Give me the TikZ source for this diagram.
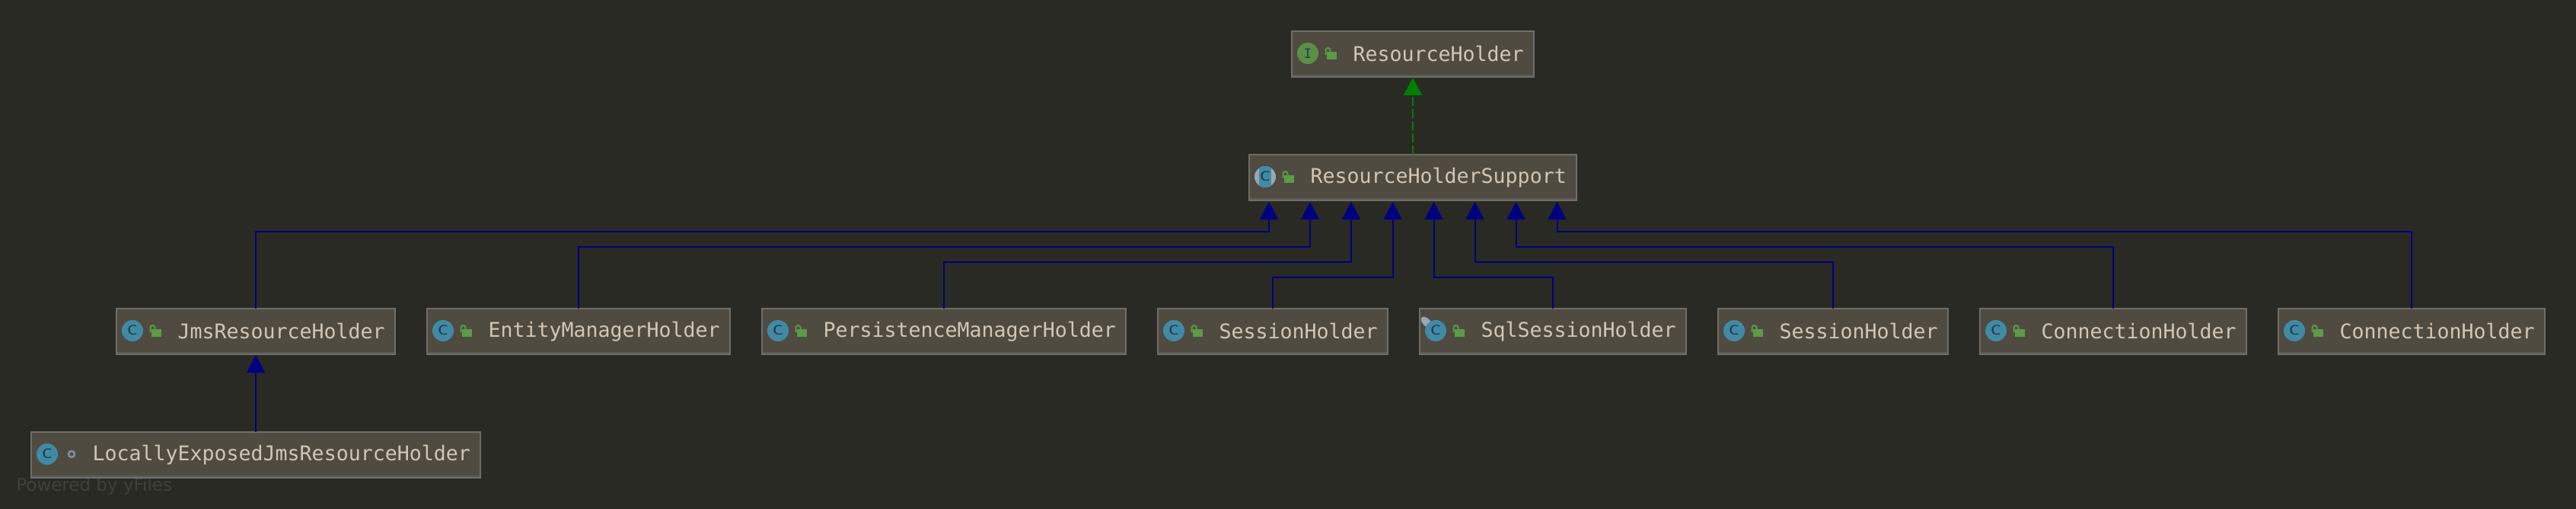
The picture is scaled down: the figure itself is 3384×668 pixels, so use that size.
\documentclass[tikz,border=0pt]{standalone}
\usepackage{fontspec}
\setmonofont{DejaVu Sans Mono}
\setsansfont{DejaVu Sans}
\usetikzlibrary{arrows.meta}
\definecolor{bgc}{HTML}{292A24}
\definecolor{boxfill}{HTML}{4F4B41}
\definecolor{boxline}{HTML}{6E6E6B}
\definecolor{boxshade}{HTML}{5D5A52}
\definecolor{txtc}{HTML}{D2C6B5}
\definecolor{teal}{HTML}{418AA6}
\definecolor{iconink}{HTML}{243D4F}
\definecolor{greyic}{HTML}{9AA7B0}
\definecolor{ifacec}{HTML}{5C8F45}
\definecolor{lockc}{HTML}{5D9B47}
\definecolor{inhc}{HTML}{000080}
\definecolor{implc}{HTML}{008000}
\definecolor{wmark}{HTML}{40403D}
\tikzset{
  x=0.5pt,y=-0.5pt,
  classbox/.style={draw=boxline,fill=boxfill,line width=1pt,inner sep=0pt,outer sep=0pt,anchor=north west,font=\ttfamily\fontsize{13.3}{16}\selectfont,text=txtc},
  inherit/.style={draw=inhc,line width=1pt,-{Triangle[length=11.5pt,width=12pt]},shorten >=0.5pt},
  implement/.style={draw=implc,line width=1pt,dash pattern=on 6pt off 2pt,-{Triangle[length=11.5pt,width=12pt]},shorten >=0.5pt},
  iconc/.style={font=\ttfamily\fontsize{8.5}{10}\selectfont,text=iconink,inner sep=0pt},
}
% #1 name, #2 left, #3 top, #4 right, #5 text
\newcommand\classnode[5]{%
  \pgfmathsetmacro\boxw{(#4-#2-2)*0.5}%
  \node[classbox,minimum width=\boxw pt,minimum height=30pt] (#1) at (#2+1,#3+1)
    {\makebox[\boxw pt][l]{\hspace{40.25pt}\raisebox{0.5pt}{#5}}};%
  \fill[boxshade] (#2+2,#3+58) rectangle (#4-2,#3+60);%
}
\newcommand\classicon[2]{% left, top
  \fill[teal] (#1+22,#2+30) circle[radius=7pt];
  \node[iconc] (c#1) at (#1+22,#2+29.5) {\scalebox{1.4}[1]{C}};
}
\newcommand\lockicon[2]{%
  \fill[lockc] (#1+47.3,#2+28) rectangle (#1+60.3,#2+38);
  \draw[lockc,line width=1pt] (#1+45.5,#2+32) -- (#1+45.5,#2+26) arc[start angle=180,end angle=0,radius=1.5pt] -- (#1+51.5,#2+28);
}
\begin{document}
\begin{tikzpicture}
\useasboundingbox[fill=bgc] (0,0) rectangle (3384,668);
\node[font=\sffamily\fontsize{11.5}{14}\selectfont,text=wmark,inner sep=0pt,anchor=base west] (wm) at (21,644) {Powered by yFiles};
\classnode{rh}{1696}{40}{2016}{ResourceHolder}
\classnode{rhs}{1640}{202}{2072}{ResourceHolderSupport}
\classnode{jms}{152}{404}{520}{JmsResourceHolder}
\classnode{emh}{560}{404}{960}{EntityManagerHolder}
\classnode{pmh}{1000}{404}{1480}{PersistenceManagerHolder}
\classnode{sh}{1520}{404}{1824}{SessionHolder}
\classnode{ssh}{1864}{404}{2216}{SqlSessionHolder}
\classnode{shb}{2256}{404}{2560}{SessionHolder}
\classnode{ch}{2600}{404}{2952}{ConnectionHolder}
\classnode{chb}{2992}{404}{3344}{ConnectionHolder}
\classnode{ljms}{40}{566}{632}{LocallyExposedJmsResourceHolder}
% icons
\fill[ifacec] (1718,70) circle[radius=7pt];
\node[iconc] (iface) at (1718,70) {I};
\lockicon{1696}{40}
\begin{scope}
  \fill[greyic] (1662,232) circle[radius=7pt];
  \clip (1662,232) circle[radius=7pt];
  \fill[teal] (1654,216) rectangle (1670,248);
\end{scope}
\node[iconc] (absc) at (1662,231.5) {\scalebox{1.4}[1]{C}};
\lockicon{1640}{202}
\classicon{152}{404}\lockicon{152}{404}
\classicon{560}{404}\lockicon{560}{404}
\classicon{1000}{404}\lockicon{1000}{404}
\classicon{1520}{404}\lockicon{1520}{404}
\draw[greyic,line width=0.8pt] (1874,423) -- (1882,431);
\fill[greyic,rotate around={-45:(1874,423)}] (1874,423) ellipse[x radius=4.5pt,y radius=2.5pt];
\classicon{1864}{404}\lockicon{1864}{404}
\classicon{2256}{404}\lockicon{2256}{404}
\classicon{2600}{404}\lockicon{2600}{404}
\classicon{2992}{404}\lockicon{2992}{404}
\classicon{40}{566}
\draw[greyic!85!black,line width=1.3pt] (94,596) circle[radius=2pt];
% connectors
\draw[implement] (rhs.north) -- (rh.south);
\draw[inherit] (jms.north) |- (1667,304) -- (1667,264);
\draw[inherit] (emh.north) |- (1721,324) -- (1721,264);
\draw[inherit] (pmh.north) |- (1775,344) -- (1775,264);
\draw[inherit] (sh.north) |- (1829.5,364) -- (1829.5,264);
\draw[inherit] (ssh.north) |- (1883.5,364) -- (1883.5,264);
\draw[inherit] (shb.north) |- (1937.5,344) -- (1937.5,264);
\draw[inherit] (ch.north) |- (1991.5,324) -- (1991.5,264);
\draw[inherit] (chb.north) |- (2045.5,304) -- (2045.5,264);
\draw[inherit] (ljms.north) -- (jms.south);
\end{tikzpicture}
\end{document}
